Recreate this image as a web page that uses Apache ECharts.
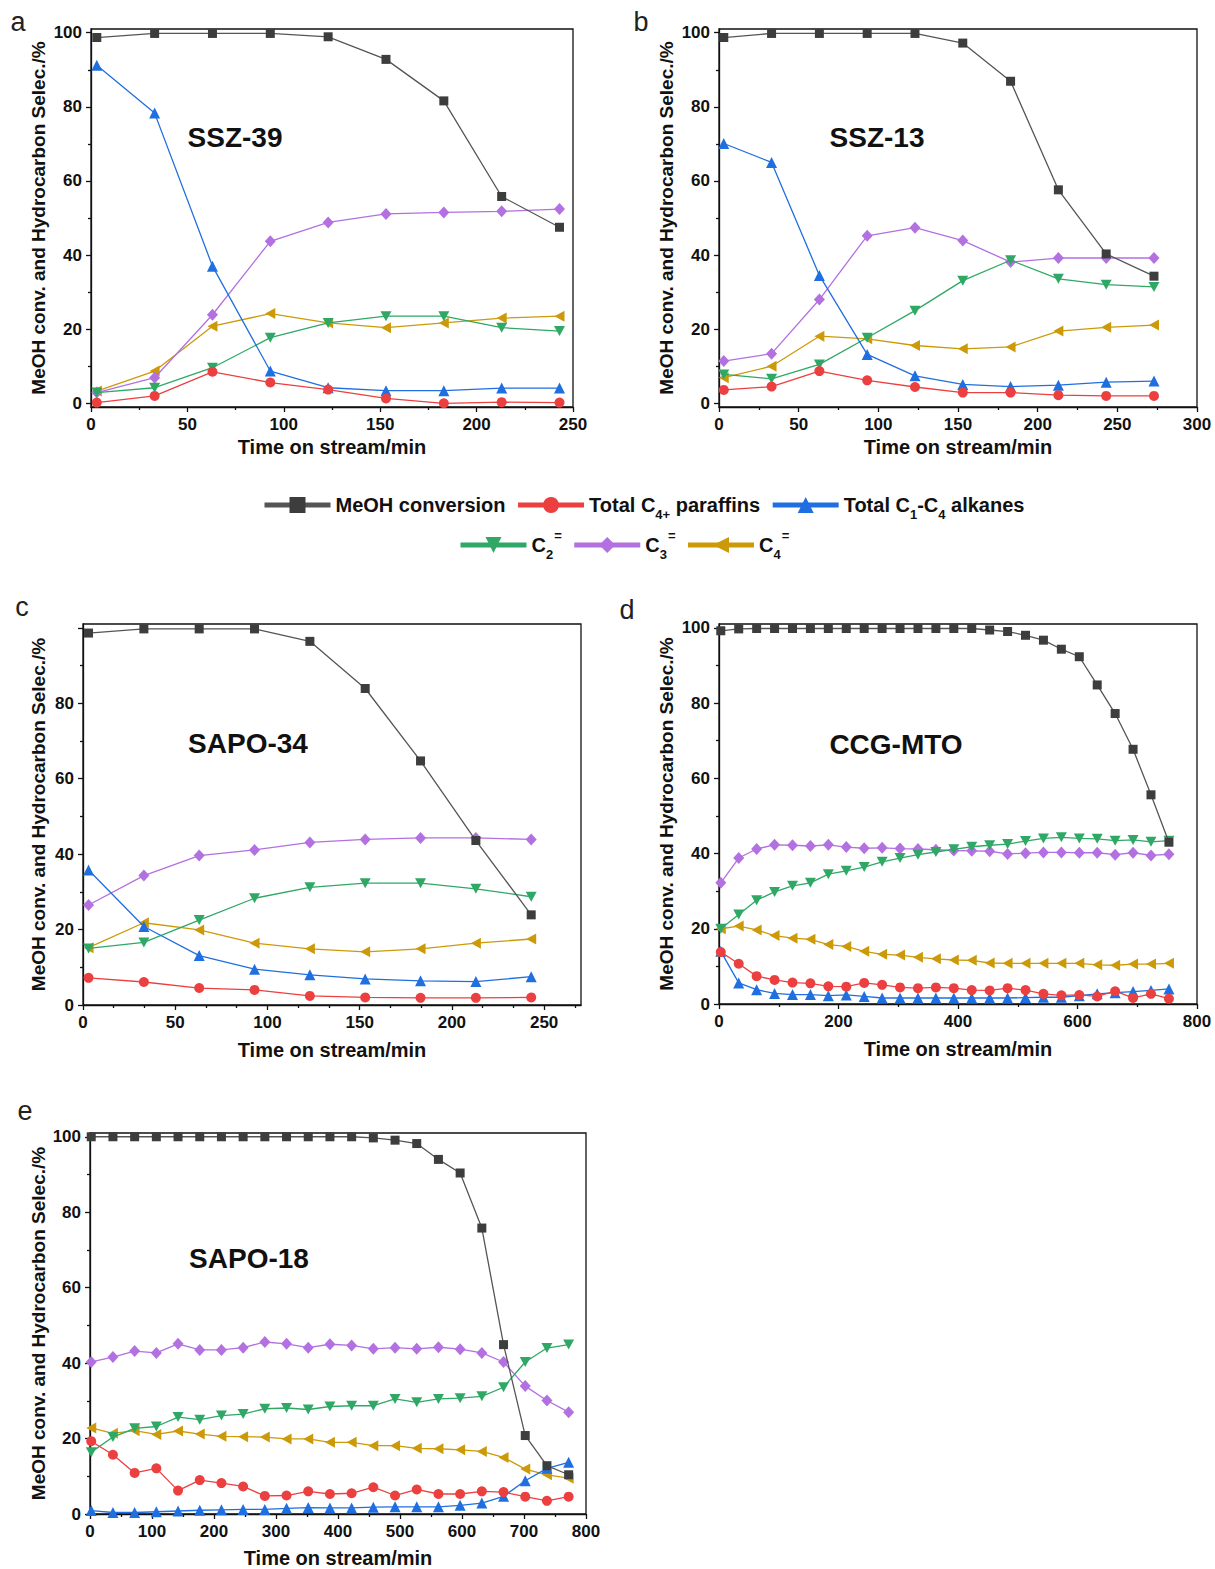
<!DOCTYPE html>
<html><head><meta charset="utf-8">
<script src="https://cdn.jsdelivr.net/npm/echarts@6/dist/echarts.min.js"></script>
<style>html,body{margin:0;padding:0;background:#fff}#c{width:1215px;height:1569px}</style>
</head><body><div id="c"></div>
<script>
// ---------- DATA ----------
const seriesNames = ['MeOH conversion', 'Total C4+ paraffins', 'Total C1-C4 alkanes', 'C2=', 'C3=', 'C4='];
const panelTitles = ['SSZ-39', 'SSZ-13', 'SAPO-34', 'CCG-MTO', 'SAPO-18'];
const panelLetters = ['a', 'b', 'c', 'd', 'e'];
const xAxisTitle = 'Time on stream/min';
const yAxisTitle = 'MeOH conv. and Hydrocarbon Selec./%';

// a: SSZ-39
const aTime = [3, 33, 63, 93, 123, 153, 183, 213, 243];
const aMeOH = [98.7, 99.8, 99.8, 99.8, 98.9, 92.8, 81.6, 55.8, 47.5];
const aC4p = [0.2, 2.0, 8.5, 5.6, 3.7, 1.3, 0.0, 0.3, 0.2];
const aC1C4 = [91.2, 78.3, 37.0, 8.7, 4.2, 3.4, 3.4, 4.1, 4.1];
const aC2 = [2.9, 4.2, 9.6, 17.7, 21.7, 23.5, 23.5, 20.4, 19.5];
const aC3 = [2.9, 6.9, 23.9, 43.7, 48.8, 51.1, 51.5, 51.8, 52.4];
const aC4 = [3.3, 8.7, 20.8, 24.2, 21.7, 20.4, 21.7, 23.0, 23.5];

// b: SSZ-13
const bTime = [3, 33, 63, 93, 123, 153, 183, 213, 243, 273];
const bMeOH = [98.7, 99.8, 99.8, 99.8, 99.8, 97.2, 86.9, 57.6, 40.3, 34.3];
const bC4p = [3.6, 4.5, 8.7, 6.2, 4.4, 2.9, 2.9, 2.2, 2.0, 2.0];
const bC1C4 = [70.1, 65.0, 34.5, 13.2, 7.4, 5.1, 4.5, 4.9, 5.7, 6.0];
const bC2 = [7.8, 6.6, 10.5, 17.7, 25.0, 33.1, 38.6, 33.6, 32.0, 31.4];
const bC3 = [11.4, 13.4, 28.0, 45.2, 47.4, 43.9, 38.1, 39.2, 39.2, 39.2];
const bC4 = [6.9, 10.0, 18.1, 17.4, 15.6, 14.7, 15.2, 19.5, 20.5, 21.1];

// c: SAPO-34
const cTime = [3, 33, 63, 93, 123, 153, 183, 213, 243];
const cMeOH = [98.6, 99.7, 99.7, 99.7, 96.4, 83.9, 64.7, 43.6, 23.9];
const cC4p = [7.2, 6.1, 4.5, 4.0, 2.4, 2.0, 1.9, 1.9, 2.0];
const cC1C4 = [35.8, 20.8, 13.1, 9.5, 8.0, 6.9, 6.4, 6.2, 7.5];
const cC2 = [15.0, 16.6, 22.5, 28.3, 31.2, 32.3, 32.3, 30.8, 28.7];
const cC3 = [26.5, 34.3, 39.6, 41.1, 43.1, 43.9, 44.3, 44.3, 43.9];
const cC4 = [15.2, 21.8, 19.9, 16.4, 14.9, 14.1, 14.9, 16.4, 17.5];

// d: CCG-MTO
const dTime = [3, 33, 63, 93, 123, 153, 183, 213, 243, 273, 303, 333, 363, 393, 423, 453, 483, 513, 543, 573, 603, 633, 663, 693, 723, 753];
const dMeOH = [99.2, 99.7, 99.8, 99.8, 99.8, 99.8, 99.8, 99.8, 99.8, 99.8, 99.8, 99.8, 99.8, 99.8, 99.8, 99.4, 99.0, 98.0, 96.7, 94.3, 92.3, 84.8, 77.2, 67.7, 55.6, 43.0];
const dC4p = [13.8, 10.7, 7.4, 6.4, 5.7, 5.5, 4.7, 4.6, 5.6, 5.1, 4.4, 4.2, 4.4, 4.2, 3.7, 3.6, 4.2, 3.7, 2.7, 2.3, 2.4, 2.0, 3.4, 1.6, 2.7, 1.4];
const dC1C4 = [14.0, 5.6, 3.8, 2.8, 2.5, 2.5, 2.2, 2.4, 2.0, 1.6, 1.6, 1.6, 1.6, 1.6, 1.6, 1.6, 1.6, 1.7, 1.8, 1.8, 2.2, 2.7, 3.0, 3.3, 3.6, 4.0];
const dC2 = [20.0, 23.8, 27.6, 29.8, 31.4, 32.2, 34.5, 35.4, 36.4, 37.8, 38.8, 39.7, 40.4, 41.1, 41.8, 42.2, 42.5, 43.3, 44.0, 44.3, 44.0, 43.9, 43.4, 43.6, 43.1, 43.4];
const dC3 = [32.2, 38.8, 41.2, 42.3, 42.2, 42.0, 42.3, 41.7, 41.4, 41.5, 41.3, 41.2, 41.0, 40.8, 40.7, 40.6, 39.9, 40.1, 40.3, 40.3, 40.2, 40.2, 39.7, 40.2, 39.5, 39.8];
const dC4 = [20.0, 20.7, 19.7, 18.2, 17.5, 17.2, 15.8, 15.3, 14.0, 13.2, 13.0, 12.4, 12.0, 11.7, 11.6, 10.9, 10.8, 10.8, 10.8, 10.8, 10.8, 10.4, 10.3, 10.6, 10.6, 10.8];

// e: SAPO-18
const eTime = [2, 37, 72, 107, 142, 177, 212, 247, 282, 317, 352, 387, 422, 457, 492, 527, 562, 597, 632, 667, 702, 737, 772];
const eMeOH = [100, 100, 100, 100, 100, 100, 100, 100, 100, 100, 100, 100, 100, 99.7, 99.1, 98.2, 94.0, 90.4, 75.8, 44.9, 20.8, 12.8, 10.4];
const eC4p = [19.3, 15.7, 10.9, 12.1, 6.2, 9.0, 8.2, 7.3, 4.8, 4.9, 6.0, 5.3, 5.5, 7.1, 4.9, 6.5, 5.3, 5.3, 6.0, 5.8, 4.6, 3.5, 4.6];
const eC1C4 = [0.9, 0.4, 0.4, 0.6, 0.8, 1.0, 1.1, 1.2, 1.2, 1.5, 1.7, 1.6, 1.6, 1.8, 1.9, 1.9, 1.9, 2.3, 2.9, 4.7, 8.8, 12.1, 13.7];
const eC2 = [16.4, 20.4, 22.7, 23.2, 25.7, 25.0, 26.1, 26.5, 27.9, 28.1, 27.7, 28.5, 28.7, 28.7, 30.5, 29.6, 30.5, 30.7, 31.2, 33.6, 40.3, 44.0, 44.9];
const eC3 = [40.3, 41.6, 43.2, 42.7, 45.1, 43.5, 43.5, 44.1, 45.6, 45.1, 44.1, 45.0, 44.7, 43.8, 44.1, 43.8, 44.2, 43.7, 42.7, 40.3, 33.9, 30.1, 27.0];
const eC4 = [22.8, 21.4, 22.1, 21.1, 22.0, 21.2, 20.6, 20.5, 20.4, 19.9, 19.9, 19.0, 19.0, 18.1, 18.1, 17.4, 17.3, 17.0, 16.6, 15.0, 11.9, 10.4, 9.5];

const panelData = [
  [aTime, [aMeOH, aC4p, aC1C4, aC2, aC3, aC4]],
  [bTime, [bMeOH, bC4p, bC1C4, bC2, bC3, bC4]],
  [cTime, [cMeOH, cC4p, cC1C4, cC2, cC3, cC4]],
  [dTime, [dMeOH, dC4p, dC1C4, dC2, dC3, dC4]],
  [eTime, [eMeOH, eC4p, eC1C4, eC2, eC3, eC4]]
];

// ---------- LAYOUT / STYLE ----------
const FONT = '"Liberation Sans", Arial, sans-serif';
const INK = '#111';
const lineColors = ['#555555', '#ec3f3f', '#1f6fe0', '#2fa866', '#b270e0', '#cc9a08'];
const markColors = ['#3d3d3d', '#ec3f3f', '#1f6fe0', '#2fa866', '#b270e0', '#cc9a08'];
const symbols = ['rect', 'circle', 'triangle', 'path://M0,0L10,0L5,9Z', 'diamond', 'path://M0,5L9,0L9,10Z'];
const symbolSizes = [9, 10, 11, [11, 10], [11, 12], [10, 11]];

const layouts = [
  {grid: {left: 91, top: 29, width: 482, height: 378}, xMax: 250, xMajor: 50, xMinor: 25, yMin: -1, yMax: 101, yLab: [0, 20, 40, 60, 80, 100], tx: 235, ty: 137, lx: 18, ly: 22, xGap: 30, yGap: 43},
  {grid: {left: 719, top: 29, width: 478, height: 378}, xMax: 300, xMajor: 50, xMinor: 25, yMin: -1, yMax: 101, yLab: [0, 20, 40, 60, 80, 100], tx: 877, ty: 137, lx: 641, ly: 22, xGap: 30, yGap: 43},
  {grid: {left: 83, top: 624, width: 498, height: 381}, xMax: 270, xMajor: 50, xMinor: 50 / 3, yMin: 0, yMax: 101, yLab: [0, 20, 40, 60, 80], tx: 248, ty: 743, lx: 22, ly: 607, xGap: 35, yGap: 35},
  {grid: {left: 719, top: 624, width: 478, height: 380}, xMax: 800, xMajor: 200, xMinor: 100, yMin: 0, yMax: 101, yLab: [0, 20, 40, 60, 80, 100], tx: 896, ty: 744, lx: 627, ly: 610, xGap: 35, yGap: 43},
  {grid: {left: 90, top: 1133, width: 496, height: 381}, xMax: 800, xMajor: 100, xMinor: 50, yMin: 0, yMax: 101, yLab: [0, 20, 40, 60, 80, 100], tx: 249, ty: 1258, lx: 25, ly: 1111, xGap: 34, yGap: 42}
];

function ticks(max, step) {
  const out = [];
  for (let v = 0; v <= max + 1e-6; v += step) out.push(Math.round(v * 1000) / 1000);
  return out;
}
function minorTicks(max, step, major) {
  const out = [];
  for (let k = 1; k * step < max - 1e-6; k++) {
    const v = k * step;
    const r = v / major;
    if (Math.abs(r - Math.round(r)) > 1e-6) out.push(Math.round(v * 1000) / 1000);
  }
  return out;
}

const tickLabelStyle = {fontFamily: FONT, fontSize: 17, fontWeight: 'bold', color: INK};
const axisLineStyle = {color: INK, width: 1.3};

const grids = [], xAxes = [], yAxes = [], series = [], titles = [];
layouts.forEach((L, p) => {
  grids.push(Object.assign({show: true, borderColor: INK, borderWidth: 1.3, backgroundColor: 'transparent'}, L.grid));
  const xMaj = ticks(L.xMax, L.xMajor);
  const xMin = minorTicks(L.xMax, L.xMinor, L.xMajor);
  xAxes.push({
    type: 'value', gridIndex: p, min: 0, max: L.xMax, position: 'bottom',
    axisLine: {show: true, onZero: false, lineStyle: axisLineStyle},
    axisTick: {show: true, customValues: xMaj, length: 5, lineStyle: axisLineStyle},
    axisLabel: {customValues: xMaj, margin: 9, ...tickLabelStyle},
    splitLine: {show: false},
    name: xAxisTitle, nameLocation: 'middle', nameGap: L.xGap,
    nameTextStyle: {fontFamily: FONT, fontSize: 20, fontWeight: 'bold', color: INK}
  });
  xAxes.push({
    type: 'value', gridIndex: p, min: 0, max: L.xMax, position: 'bottom',
    axisLine: {show: false, onZero: false},
    axisTick: {show: true, customValues: xMin, length: 3, lineStyle: axisLineStyle},
    axisLabel: {show: false}, splitLine: {show: false}
  });
  const yMaj = [0, 20, 40, 60, 80, 100];
  const yMin = [10, 30, 50, 70, 90];
  yAxes.push({
    type: 'value', gridIndex: p, min: L.yMin, max: L.yMax, position: 'left',
    axisLine: {show: true, onZero: false, lineStyle: axisLineStyle},
    axisTick: {show: true, customValues: yMaj, length: 5, lineStyle: axisLineStyle},
    axisLabel: {customValues: L.yLab, margin: 9, ...tickLabelStyle},
    splitLine: {show: false},
    name: yAxisTitle, nameLocation: 'middle', nameGap: L.yGap,
    nameTextStyle: {fontFamily: FONT, fontSize: 19, fontWeight: 'bold', color: INK}
  });
  yAxes.push({
    type: 'value', gridIndex: p, min: L.yMin, max: L.yMax, position: 'left',
    axisLine: {show: false, onZero: false},
    axisTick: {show: true, customValues: yMin, length: 3, lineStyle: axisLineStyle},
    axisLabel: {show: false}, splitLine: {show: false}
  });
  const [times, vals] = panelData[p];
  vals.forEach((arr, k) => {
    series.push({
      type: 'line', name: seriesNames[k],
      xAxisIndex: 2 * p, yAxisIndex: 2 * p,
      data: times.map((t, i) => [t, arr[i]]),
      symbol: symbols[k], symbolSize: symbolSizes[k], showSymbol: true,
      lineStyle: {color: lineColors[k], width: 1.3},
      itemStyle: {color: markColors[k]},
      z: 10 - k, animation: false
    });
  });
  titles.push({
    text: panelTitles[p], left: L.tx, top: L.ty, padding: 0,
    textAlign: 'center', textVerticalAlign: 'middle',
    textStyle: {fontFamily: FONT, fontSize: 28, fontWeight: 'bold', color: INK}
  });
  titles.push({
    text: panelLetters[p], left: L.lx, top: L.ly, padding: 0,
    textAlign: 'center', textVerticalAlign: 'middle',
    textStyle: {fontFamily: FONT, fontSize: 27, fontWeight: 'normal', color: '#222'}
  });
});

const legendLabels = {
  'MeOH conversion': 'MeOH conversion',
  'Total C4+ paraffins': 'Total C{sub|4+} paraffins',
  'Total C1-C4 alkanes': 'Total C{sub|1}-C{sub|4} alkanes',
  'C2=': 'C{sub|2}{sup|=}',
  'C3=': 'C{sub|3}{sup|=}',
  'C4=': 'C{sub|4}{sup|=}'
};
const legendText = {
  fontFamily: FONT, fontSize: 20, fontWeight: 'bold', color: INK, lineHeight: 32,
  rich: {
    sub: {fontFamily: FONT, fontSize: 13, fontWeight: 'bold', color: INK, lineHeight: 14, verticalAlign: 'bottom'},
    sup: {fontFamily: FONT, fontSize: 13, fontWeight: 'bold', color: INK, lineHeight: 14, verticalAlign: 'top', padding: [0, 0, 0, 1]}
  }
};
const legendCommon = {
  orient: 'horizontal', itemWidth: 66, itemHeight: 20, itemGap: 10,
  selectedMode: false, padding: 0,
  lineStyle: {width: 5},
  formatter: n => legendLabels[n] || n,
  textStyle: legendText
};

const option = {
  backgroundColor: '#fff',
  animation: false,
  title: titles,
  grid: grids,
  xAxis: xAxes,
  yAxis: yAxes,
  legend: [
    Object.assign({data: seriesNames.slice(0, 3), left: 262, top: 489}, legendCommon),
    Object.assign({data: seriesNames.slice(3), left: 458, top: 529}, legendCommon)
  ],
  series: series
};

const chart = echarts.init(document.getElementById('c'), null, {renderer: 'svg', width: 1215, height: 1569});
chart.setOption(option);
</script>
</body></html>
